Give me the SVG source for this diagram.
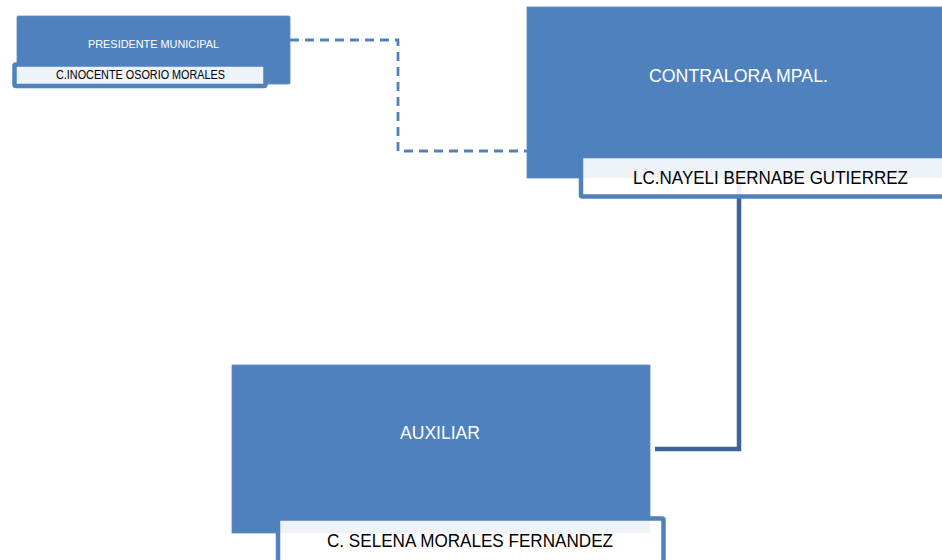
<svg xmlns="http://www.w3.org/2000/svg" width="942" height="560" viewBox="0 0 942 560">
<style>
.box{fill:#4f81bd;stroke:#5a8ac4;stroke-width:0.8}
.tag{fill:#ffffff;fill-opacity:0.9;stroke:#4f81bd;stroke-width:4.5}
.wt{font-family:"Liberation Sans",Arial,sans-serif;fill:#ffffff}
.bt{font-family:"Liberation Sans",Arial,sans-serif;fill:#000000}
.dash{fill:none;stroke:#4f81bd;stroke-width:2.8;stroke-dasharray:9 6}
.solid{fill:none;stroke:#3e6497;stroke-width:4.5}
</style>
<rect width="942" height="560" fill="#ffffff"/>
<g id="connectors">
<polyline class="dash" points="290,40 398,40 398,151 528,151"/>
<polyline class="solid" points="739,178 739,449 655,449"/>
</g>
<g id="presidente">
<rect class="box" x="17" y="16" width="273" height="68" rx="1"/>
<text class="wt" x="88" y="48" font-size="11" textLength="131" lengthAdjust="spacingAndGlyphs">PRESIDENTE MUNICIPAL</text>
<rect class="tag" x="14.5" y="64.5" width="251" height="21.5" rx="1.5"/>
<text class="bt" x="56" y="79" font-size="12" textLength="169" lengthAdjust="spacingAndGlyphs">C.INOCENTE OSORIO MORALES</text>
</g>
<g id="contralora">
<rect class="box" x="527" y="7" width="430" height="171"/>
<text class="wt" x="649" y="82" font-size="18" textLength="179" lengthAdjust="spacingAndGlyphs">CONTRALORA MPAL.</text>
<rect class="tag" x="581" y="156" width="380" height="40.5" rx="1.5"/>
<text class="bt" x="633" y="184" font-size="18" textLength="275" lengthAdjust="spacingAndGlyphs">LC.NAYELI BERNABE GUTIERREZ</text>
</g>
<g id="auxiliar">
<rect class="box" x="232" y="365" width="418" height="168"/>
<text class="wt" x="400" y="439" font-size="17.5" textLength="80" lengthAdjust="spacingAndGlyphs">AUXILIAR</text>
<rect class="tag" x="278" y="518.5" width="385.5" height="60" rx="1.5"/>
<text class="bt" x="327" y="547" font-size="18" textLength="286" lengthAdjust="spacingAndGlyphs">C. SELENA MORALES FERNANDEZ</text>
</g>
</svg>
